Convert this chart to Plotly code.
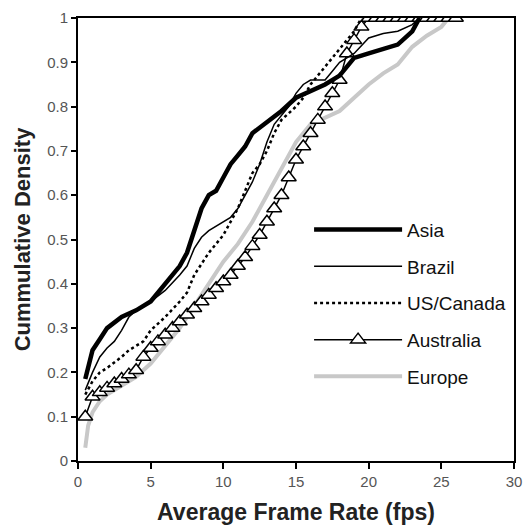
import plotly.graph_objects as go

# ---- data ----
asia_x = [0.5, 1, 1.5, 2, 3, 4, 5, 6, 7, 7.5, 8, 8.5, 9, 9.5, 10, 10.5, 11, 11.5, 12, 13, 14, 15, 16, 17, 18, 19, 20, 21, 22, 23, 23.5]
asia_y = [0.185, 0.25, 0.275, 0.30, 0.325, 0.34, 0.36, 0.40, 0.44, 0.47, 0.52, 0.57, 0.60, 0.61, 0.64, 0.67, 0.69, 0.71, 0.74, 0.765, 0.79, 0.82, 0.835, 0.85, 0.87, 0.91, 0.92, 0.93, 0.94, 0.97, 1.0]

brazil_x = [0.5, 1, 1.5, 2, 2.5, 3, 3.5, 4, 5, 6, 7, 7.5, 8, 8.5, 9, 10, 10.5, 11, 11.5, 12, 12.5, 13, 13.5, 14, 14.5, 15, 15.5, 16, 17, 17.5, 18, 19, 20, 21, 22, 23, 23.5]
brazil_y = [0.16, 0.20, 0.235, 0.255, 0.27, 0.295, 0.325, 0.34, 0.36, 0.385, 0.42, 0.44, 0.48, 0.505, 0.52, 0.54, 0.55, 0.57, 0.60, 0.63, 0.67, 0.72, 0.76, 0.78, 0.80, 0.83, 0.85, 0.86, 0.86, 0.88, 0.90, 0.92, 0.955, 0.965, 0.97, 0.985, 1.0]

us_x = [0.5, 1, 1.5, 2, 3, 3.5, 4, 4.5, 5, 5.5, 6, 7, 7.5, 8, 8.5, 9, 10, 10.5, 11, 11.5, 12, 12.5, 13, 13.5, 14, 15, 15.5, 16, 17, 17.5, 18, 19, 19.5]
us_y = [0.15, 0.18, 0.20, 0.21, 0.235, 0.25, 0.26, 0.27, 0.295, 0.31, 0.325, 0.36, 0.38, 0.42, 0.445, 0.47, 0.51, 0.54, 0.57, 0.61, 0.65, 0.67, 0.70, 0.74, 0.77, 0.80, 0.82, 0.85, 0.89, 0.91, 0.93, 0.97, 1.0]

aus_x = [0.5, 1, 1.5, 2, 2.5, 3, 3.5, 4, 4.5, 5, 5.5, 6, 6.5, 7, 7.5, 8, 8.5, 9, 9.5, 10, 10.5, 11, 11.5, 12, 12.5, 13, 13.5, 14, 14.5, 15, 15.5, 16, 16.5, 17, 17.5, 18, 18.5, 19, 19.5, 20, 20.5, 21, 21.5, 22, 22.5, 23, 23.5, 24, 24.5, 25, 25.5, 26]
aus_y = [0.10, 0.145, 0.155, 0.165, 0.175, 0.185, 0.195, 0.205, 0.235, 0.255, 0.27, 0.285, 0.30, 0.315, 0.33, 0.345, 0.36, 0.375, 0.39, 0.405, 0.42, 0.44, 0.46, 0.485, 0.51, 0.54, 0.57, 0.60, 0.64, 0.68, 0.71, 0.74, 0.77, 0.80, 0.83, 0.86, 0.92, 0.95, 0.98, 1.0, 1.0, 1.0, 1.0, 1.0, 1.0, 1.0, 1.0, 1.0, 1.0, 1.0, 1.0, 1.0]

eur_x = [0.5, 0.7, 1, 1.5, 2, 3, 4, 5, 6, 7, 8, 9, 10, 11, 12, 13, 14, 15, 16, 17, 18, 19, 20, 21, 22, 23, 24, 25, 25.5]
eur_y = [0.03, 0.08, 0.11, 0.135, 0.15, 0.17, 0.19, 0.22, 0.26, 0.30, 0.35, 0.40, 0.45, 0.49, 0.54, 0.60, 0.66, 0.72, 0.76, 0.775, 0.79, 0.82, 0.85, 0.875, 0.895, 0.935, 0.96, 0.98, 1.0]

x_ticks = [0, 5, 10, 15, 20, 25, 30]
y_ticks = [0, 0.1, 0.2, 0.3, 0.4, 0.5, 0.6, 0.7, 0.8, 0.9, 1]
y_tick_text = ["0", "0.1", "0.2", "0.3", "0.4", "0.5", "0.6", "0.7", "0.8", "0.9", "1"]

FONT = "Liberation Sans, Arial, sans-serif"

fig = go.Figure()
fig.add_trace(go.Scatter(x=eur_x, y=eur_y, mode="lines", name="Europe", legendgroup="e",
                         line=dict(color="#c8c8c8", width=4), legendrank=5))
fig.add_trace(go.Scatter(x=aus_x, y=aus_y, mode="lines+markers", name="Australia", legendgroup="a",
                         line=dict(color="black", width=1.5),
                         marker=dict(symbol="triangle-up", size=13, color="white",
                                     line=dict(color="black", width=1.5)), legendrank=4))
fig.add_trace(go.Scatter(x=us_x, y=us_y, mode="lines", name="US/Canada", legendgroup="u",
                         line=dict(color="black", width=2.5, dash="dot"), legendrank=3))
fig.add_trace(go.Scatter(x=brazil_x, y=brazil_y, mode="lines", name="Brazil", legendgroup="b",
                         line=dict(color="black", width=1.5), legendrank=2))
fig.add_trace(go.Scatter(x=asia_x, y=asia_y, mode="lines", name="Asia", legendgroup="s",
                         line=dict(color="black", width=4.5), legendrank=1))

fig.update_layout(
    width=531, height=530,
    margin=dict(l=78, r=9, t=18, b=69),
    paper_bgcolor="white", plot_bgcolor="white",
    font=dict(family=FONT, color="#222"),
    legend=dict(x=0.53, y=0.565, xanchor="left", yanchor="top",
                font=dict(size=19, color="#111", family=FONT),
                bgcolor="rgba(0,0,0,0)", tracegroupgap=9, itemwidth=88),
    showlegend=True,
)
fig.update_xaxes(range=[0, 30], tickvals=x_ticks, ticks="outside", ticklen=6,
                 tickwidth=1.5, tickcolor="black",
                 showline=True, linecolor="black", linewidth=2, mirror=True,
                 showgrid=False, zeroline=False,
                 tickfont=dict(size=15, color="#555"),
                 title=dict(text="<b>Average Frame Rate (fps)</b>", font=dict(size=23, color="#222"), standoff=15))
fig.update_yaxes(range=[0, 1], tickvals=y_ticks, ticktext=y_tick_text, ticks="outside", ticklen=5,
                 tickwidth=1.5, tickcolor="black",
                 showline=True, linecolor="black", linewidth=2, mirror=True,
                 showgrid=False, zeroline=False,
                 tickfont=dict(size=15, color="#555"),
                 title=dict(text="<b>Cummulative Density</b>", font=dict(size=22, color="#222"), standoff=10))

fig.write_html("out.html")
